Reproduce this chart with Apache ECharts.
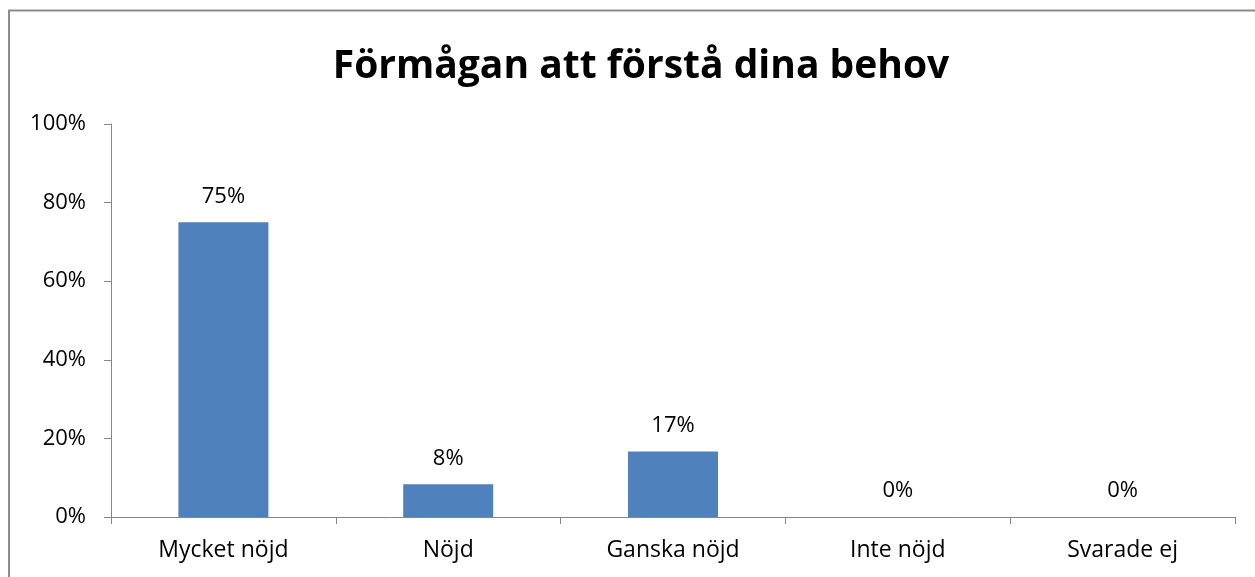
<!DOCTYPE html>
<html>
<head>
<meta charset="utf-8">
<script src="https://cdn.jsdelivr.net/npm/echarts@6/dist/echarts.min.js"></script>
<style>
    html, body { margin: 0; padding: 0; background: #fff; }
    #chart { width: 1255px; height: 577px; }
</style>
</head>
<body>
<div id="chart"></div>
<script>
    var categories = ['Mycket nöjd', 'Nöjd', 'Ganska nöjd', 'Inte nöjd', 'Svarade ej'];
    var values = [75, 8.33, 16.67, 0, 0];
    var yTicks = [0, 20, 40, 60, 80, 100];

    var font = '"Open Sans", Lato, sans-serif';
    var axisColor = '#868686';

    var myChart = echarts.init(document.getElementById('chart'));
    var option = {
        animation: false,
        title: {
            text: 'Förmågan att förstå dina behov',
            left: 636,
            textAlign: 'center',
            top: 42,
            textStyle: {
                fontFamily: font,
                fontSize: 39,
                fontWeight: 'bold',
                color: '#000'
            }
        },
        graphic: [{
            type: 'rect',
            shape: { x: 9, y: 10.5, width: 1300, height: 600 },
            style: { fill: 'none', stroke: '#8c8c8c', lineWidth: 2 },
            silent: true
        }],
        grid: {
            left: 111,
            right: 20,
            top: 124,
            bottom: 60
        },
        xAxis: {
            type: 'category',
            data: categories,
            axisLine: { lineStyle: { color: axisColor, width: 1 } },
            axisTick: { show: true, length: 7, alignWithLabel: false, lineStyle: { color: axisColor } },
            axisLabel: {
                margin: 22,
                fontFamily: font,
                fontSize: 23,
                color: '#000'
            }
        },
        yAxis: {
            type: 'value',
            min: yTicks[0],
            max: yTicks[yTicks.length - 1],
            interval: 20,
            axisLine: { show: true, lineStyle: { color: axisColor, width: 1 } },
            axisTick: { show: true, length: 7, lineStyle: { color: axisColor } },
            splitLine: { show: false },
            axisLabel: {
                margin: 25,
                fontFamily: font,
                fontSize: 22,
                color: '#000',
                formatter: function (v) { return v + '%'; }
            }
        },
        series: [{
            type: 'bar',
            data: values,
            barWidth: 90,
            itemStyle: { color: '#4f81bd' },
            label: {
                show: true,
                position: 'top',
                distance: 15,
                fontFamily: font,
                fontSize: 22,
                color: '#000',
                formatter: function (p) { return Math.round(p.value) + '%'; }
            }
        }]
    };
    myChart.setOption(option);
</script>
</body>
</html>
